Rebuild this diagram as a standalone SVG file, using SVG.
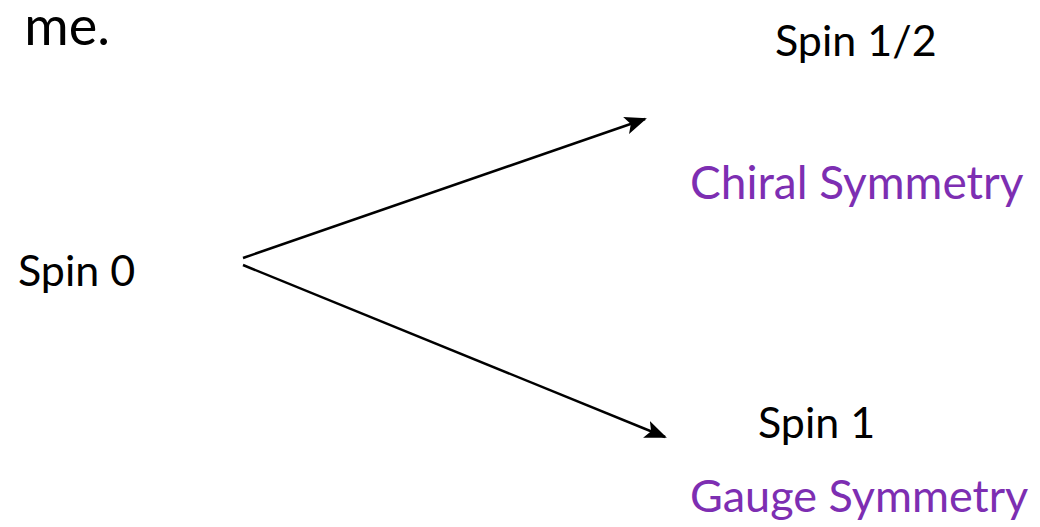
<svg xmlns="http://www.w3.org/2000/svg" width="1040" height="527" viewBox="0 0 1040 527">
  <style>
    text { font-family: Lato, "Open Sans", "Liberation Sans", sans-serif; }
    .lbl { font-size: 43px; fill: #000; }
    .sym { font-size: 46px; fill: #7d2eb2; }
    .edge { stroke: #000; stroke-width: 2.5; fill: none; }
  </style>
  <defs>
    <marker id="arrow" viewBox="0 0 22 18" refX="20" refY="9" markerWidth="22" markerHeight="18" markerUnits="userSpaceOnUse" orient="auto">
      <path d="M0,0 L22,9 L0,18 L5,9 Z" fill="#000"/>
    </marker>
  </defs>
  <rect width="1040" height="527" fill="#fff"/>

  <text class="lbl" x="110" y="45" text-anchor="end" style="font-size:54px">me.</text>

  <g id="connectors">
    <line class="edge" x1="243" y1="258" x2="645" y2="119" marker-end="url(#arrow)"/>
    <line class="edge" x1="243" y1="265" x2="665" y2="437" marker-end="url(#arrow)"/>
  </g>

  <g id="spin0">
    <text class="lbl" x="18" y="286">Spin 0</text>
  </g>
  <g id="spin12">
    <text class="lbl" x="775" y="56">Spin 1/2</text>
    <text class="sym" x="690" y="199">Chiral Symmetry</text>
  </g>
  <g id="spin1">
    <text class="lbl" x="758" y="438">Spin 1</text>
    <text class="sym" x="690" y="512" style="font-size:45px">Gauge Symmetry</text>
  </g>
</svg>
